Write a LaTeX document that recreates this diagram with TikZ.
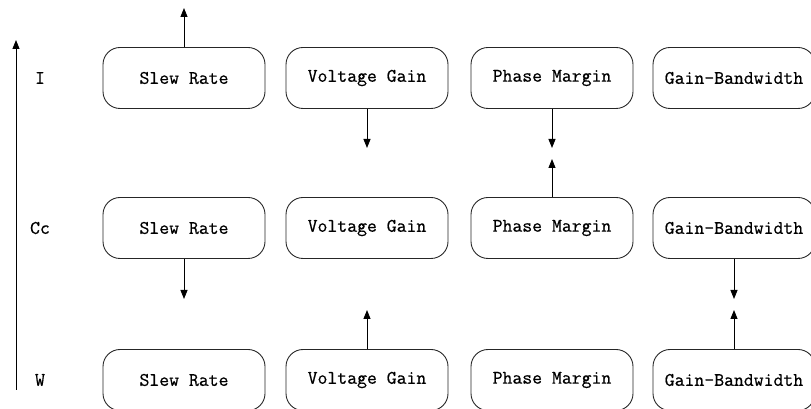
\documentclass[tikz,border=0pt]{standalone}
\usepackage{fontspec}
\setmonofont[FakeBold=0.6]{Latin Modern Mono}
\usetikzlibrary{arrows.meta}
\begin{document}
\begin{tikzpicture}[x=1pt,y=1pt,
  box/.style={draw=black!85, line width=0.9pt, rounded corners=17pt, minimum width=162pt, minimum height=61pt, inner sep=0pt, font=\ttfamily\fontsize{19.2}{21}\selectfont},
  lbl/.style={font=\ttfamily\fontsize{19.2}{21}\selectfont},
  arr/.style={line width=0.9pt, -{Triangle[length=9pt,width=7pt]}}]
\useasboundingbox (0,0) rectangle (811,409);
\clip (0,0) rectangle (811,409);
% rows: y=409-78=331, 409-228=181, 409-380=29
\node[box] (i1) at (184,331) {Slew Rate};
\node[box] (i2) at (367,331) {Voltage Gain};
\node[box] (i3) at (552,331) {Phase Margin};
\node[box] (i4) at (734,331) {Gain-Bandwidth};
\node[box] (c1) at (184,181) {Slew Rate};
\node[box] (c2) at (367,181) {Voltage Gain};
\node[box] (c3) at (552,181) {Phase Margin};
\node[box] (c4) at (734,181) {Gain-Bandwidth};
\node[box] (w1) at (184,29) {Slew Rate};
\node[box] (w2) at (367,29) {Voltage Gain};
\node[box] (w3) at (552,29) {Phase Margin};
\node[box] (w4) at (734,29) {Gain-Bandwidth};
\node[lbl] (li) at (40,331) {I};
\node[lbl] (lc) at (40,181) {Cc};
\node[lbl] (lw) at (40,29) {W};
% axis
\coordinate (ax0) at (16,19);
\coordinate (ax1) at (16,369);
\draw[arr] (ax0) -- (ax1);
% free-end coordinates
\coordinate (t1) at (184,401);
\coordinate (t2) at (367,261);
\coordinate (t3) at (552,261);
\coordinate (t3u) at (552,250);
\coordinate (t5) at (184,110);
\coordinate (t6) at (367,99);
\coordinate (t7) at (734,110);
\coordinate (t8) at (734,99);
\draw[arr] (i1.north) -- (t1);
\draw[arr] (i2.south) -- (t2);
\draw[arr] (i3.south) -- (t3);
\draw[arr] (c3.north) -- (t3u);
\draw[arr] (c1.south) -- (t5);
\draw[arr] (w2.north) -- (t6);
\draw[arr] (c4.south) -- (t7);
\draw[arr] (w4.north) -- (t8);
\end{tikzpicture}
\end{document}
